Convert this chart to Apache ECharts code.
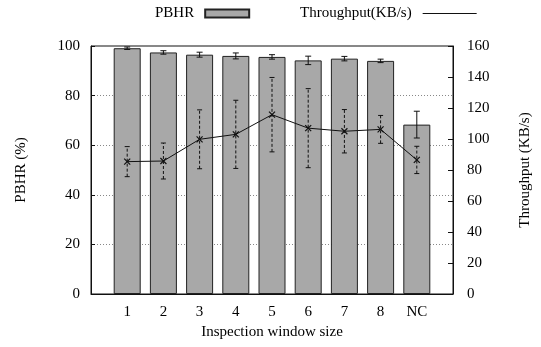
<!DOCTYPE html>
<html>
<head>
<meta charset="utf-8">
<script src="https://cdn.jsdelivr.net/npm/echarts@6/dist/echarts.min.js"></script>
<style>html,body{margin:0;padding:0;background:#fff;}#c{width:541px;height:347px;}</style>
</head>
<body>
<div id="c"></div>
<script>
const categories = ['1', '2', '3', '4', '5', '6', '7', '8', 'NC'];
const pbhr = [99.1, 97.4, 96.5, 96.0, 95.6, 94.2, 94.9, 94.0, 68.3];
const pbhrErr = [0.5, 0.7, 1.0, 1.2, 0.9, 1.7, 0.9, 0.7, 5.4];
const throughput = [85.4, 85.8, 99.8, 103.0, 115.7, 107.0, 105.0, 106.2, 86.5];
const throughputErr = [9.7, 11.6, 19.0, 22.0, 24.0, 25.5, 14.0, 9.0, 8.8];
const leftTicks = [0, 20, 40, 60, 80, 100];
const rightTicks = [0, 20, 40, 60, 80, 100, 120, 140, 160];

const FONT = 'Liberation Serif';
const FS = 15;
const axisCats = [''].concat(categories, ['']);

function errRender(capW, dashed, marker) {
  return function (params, api) {
    const x = api.value(0);
    const lo = api.coord([x, api.value(1)]);
    const hi = api.coord([x, api.value(2)]);
    const cx = lo[0];
    const children = [
      {type: 'line', shape: {x1: cx, y1: lo[1], x2: cx, y2: hi[1]},
       style: {stroke: '#111', lineWidth: 1, lineDash: dashed ? [3, 2] : null}},
      {type: 'line', shape: {x1: cx - capW, y1: lo[1], x2: cx + capW, y2: lo[1]},
       style: {stroke: '#111', lineWidth: 1}},
      {type: 'line', shape: {x1: cx - capW, y1: hi[1], x2: cx + capW, y2: hi[1]},
       style: {stroke: '#111', lineWidth: 1}}
    ];
    if (marker) {
      const p = api.coord([x, api.value(3)]);
      const s = 3;
      children.push({type: 'line', shape: {x1: p[0] - s, y1: p[1] - s, x2: p[0] + s, y2: p[1] + s}, style: {stroke: '#111', lineWidth: 1.2}});
      children.push({type: 'line', shape: {x1: p[0] - s, y1: p[1] + s, x2: p[0] + s, y2: p[1] - s}, style: {stroke: '#111', lineWidth: 1.2}});
    }
    return {type: 'group', children: children};
  };
}

const chart = echarts.init(document.getElementById('c'), null, {renderer: 'canvas'});
chart.setOption({
  animation: false,
  textStyle: {fontFamily: FONT, color: '#000'},
  grid: {left: 91, right: 88, top: 46, bottom: 53, show: true, borderColor: '#111', borderWidth: 1, backgroundColor: 'transparent'},
  legend: [
    {data: [{name: 'PBHR', icon: 'rect'}], left: 150, top: 1, align: 'right', itemWidth: 44, itemHeight: 8,
     textStyle: {fontFamily: FONT, fontSize: FS, color: '#000', padding: [0, 6, 0, 0]}},
    {data: [{name: 'Throughput(KB/s)', icon: 'rect', itemStyle: {color: '#111', borderWidth: 0}}], left: 295, top: 1, align: 'right', itemWidth: 54, itemHeight: 1,
     textStyle: {fontFamily: FONT, fontSize: FS, color: '#000', padding: [0, 6, 0, 0]}}
  ],
  xAxis: {
    type: 'category', data: axisCats, boundaryGap: false,
    name: 'Inspection window size', nameLocation: 'middle', nameGap: 31,
    nameTextStyle: {fontFamily: FONT, fontSize: FS, color: '#000'},
    axisLine: {lineStyle: {color: '#111', width: 1}},
    axisTick: {show: false},
    axisLabel: {fontFamily: FONT, fontSize: FS, color: '#000', margin: 11, interval: 0},
    splitLine: {show: false}
  },
  yAxis: [
    {type: 'value', min: 0, max: 100, interval: 20, position: 'left',
     name: 'PBHR (%)', nameLocation: 'middle', nameGap: 62, nameRotate: 90,
     nameTextStyle: {fontFamily: FONT, fontSize: FS, color: '#000'},
     axisLine: {show: true, lineStyle: {color: '#111', width: 1}},
     axisTick: {show: true, inside: true, length: 4, lineStyle: {color: '#111'}},
     axisLabel: {fontFamily: FONT, fontSize: FS, color: '#000', margin: 11},
     splitLine: {show: true, lineStyle: {color: '#888', type: [1, 2], width: 1}}},
    {type: 'value', min: 0, max: 160, interval: 20, position: 'right',
     name: 'Throughput (KB/s)', nameLocation: 'middle', nameGap: 65, nameRotate: 90,
     nameTextStyle: {fontFamily: FONT, fontSize: FS, color: '#000'},
     axisLine: {show: true, lineStyle: {color: '#111', width: 1}},
     axisTick: {show: true, inside: true, length: 5, lineStyle: {color: '#111'}},
     axisLabel: {fontFamily: FONT, fontSize: FS, color: '#000', margin: 14},
     splitLine: {show: false}}
  ],
  series: [
    {name: 'PBHR', type: 'bar', yAxisIndex: 0, barWidth: 27, z: 2,
     itemStyle: {color: '#a8a8a8', borderColor: '#222', borderWidth: 1},
     data: pbhr.map((v, i) => [i + 1, v])},
    {type: 'custom', yAxisIndex: 0, z: 3, renderItem: errRender(3, false, false),
     encode: {x: 0, y: [1, 2]},
     data: pbhr.map((v, i) => [i + 1, v - pbhrErr[i], v + pbhrErr[i]])},
    {name: 'Throughput(KB/s)', type: 'line', yAxisIndex: 1, z: 4, symbol: 'none',
     lineStyle: {color: '#111', width: 1}, itemStyle: {color: '#111'},
     data: throughput.map((v, i) => [i + 1, v])},
    {type: 'custom', yAxisIndex: 1, z: 5, renderItem: errRender(2.5, true, true),
     encode: {x: 0, y: [1, 2]},
     data: throughput.map((v, i) => [i + 1, v - throughputErr[i], v + throughputErr[i], v])}
  ]
});
</script>
</body>
</html>
